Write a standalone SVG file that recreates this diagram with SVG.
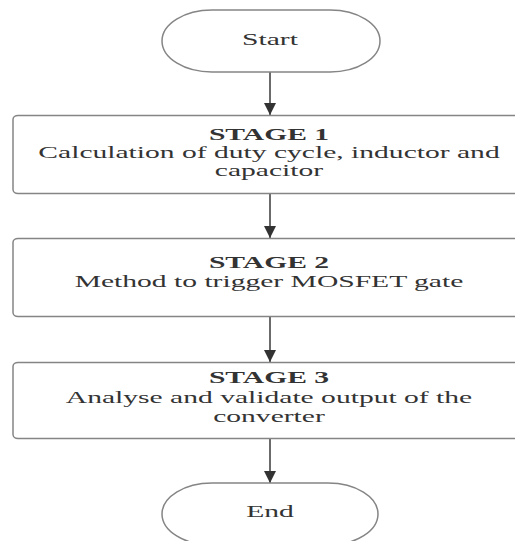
<svg xmlns="http://www.w3.org/2000/svg" width="515" height="541" viewBox="0 0 515 541">
  <defs>
    <style>
      .node { fill: #ffffff; stroke: #858585; stroke-width: 1.5; }
      .edge { stroke: #3a3a3a; stroke-width: 1.5; fill: none; }
      .t { font-family: "Liberation Serif", "Times New Roman", serif; font-size: 17px; fill: #333333; text-anchor: middle; }
      .b { font-weight: bold; }
    </style>
    <marker id="arrow" viewBox="0 0 12 12" refX="12" refY="6" markerWidth="12" markerHeight="12" markerUnits="userSpaceOnUse" orient="auto">
      <path d="M0,0 L12,6 L0,12 Z" fill="#333333"/>
    </marker>
  </defs>
  <rect width="515" height="541" fill="#ffffff"/>

  <g id="connectors">
    <line class="edge" x1="270" y1="72" x2="270" y2="115" marker-end="url(#arrow)"/>
    <line class="edge" x1="270" y1="193" x2="270" y2="238" marker-end="url(#arrow)"/>
    <line class="edge" x1="270" y1="317" x2="270" y2="362" marker-end="url(#arrow)"/>
    <line class="edge" x1="270" y1="438" x2="270" y2="483" marker-end="url(#arrow)"/>
  </g>

  <g id="start">
    <rect class="node" x="162" y="10" width="218" height="62" rx="50" ry="31"/>
    <g transform="translate(270 0) scale(1.74 1)">
      <text class="t" x="0" y="45">Start</text>
    </g>
  </g>

  <g id="stage1">
    <rect class="node" x="13" y="115.5" width="510" height="78" rx="5" ry="4"/>
    <g transform="translate(269 0) scale(1.74 1)">
      <text class="t b" x="0" y="140">STAGE 1</text>
      <text class="t" x="0" y="158">Calculation of duty cycle, inductor and</text>
      <text class="t" x="0" y="176">capacitor</text>
    </g>
  </g>

  <g id="stage2">
    <rect class="node" x="13" y="238.5" width="510" height="78" rx="5" ry="4"/>
    <g transform="translate(269 0) scale(1.74 1)">
      <text class="t b" x="0" y="268">STAGE 2</text>
      <text class="t" x="0" y="287">Method to trigger MOSFET gate</text>
    </g>
  </g>

  <g id="stage3">
    <rect class="node" x="13" y="362.5" width="510" height="76" rx="5" ry="4"/>
    <g transform="translate(269 0) scale(1.74 1)">
      <text class="t b" x="0" y="383">STAGE 3</text>
      <text class="t" x="0" y="403">Analyse and validate output of the</text>
      <text class="t" x="0" y="422">converter</text>
    </g>
  </g>

  <g id="end">
    <rect class="node" x="162" y="483" width="216" height="62" rx="50" ry="31"/>
    <g transform="translate(270 0) scale(1.74 1)">
      <text class="t" x="0" y="517">End</text>
    </g>
  </g>
</svg>
